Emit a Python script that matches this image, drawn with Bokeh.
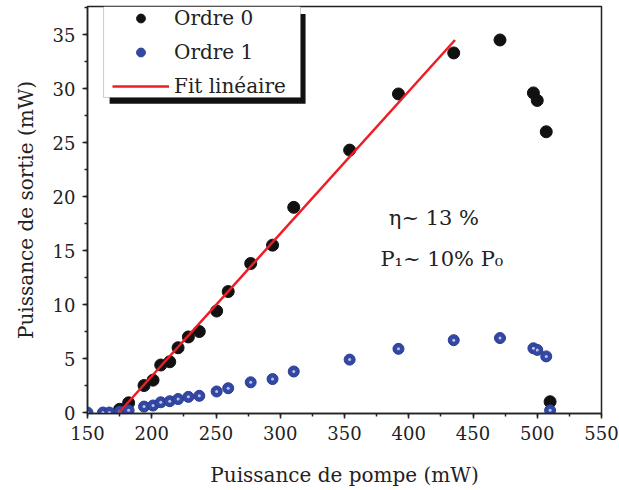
from bokeh.plotting import figure
from bokeh.models import Range1d, SingleIntervalTicker, Legend, LegendItem, Label, BoxAnnotation
from bokeh.embed import file_html
from bokeh.resources import INLINE

# ---- data ----
pump_order0 = [175, 182, 194, 201, 207, 214, 220.5, 228.5, 237, 250.5, 259.5, 277,
               294, 310.5, 354, 392, 435, 471, 497, 500, 507, 510]
power_order0 = [0.3, 0.9, 2.5, 3.0, 4.4, 4.7, 6.0, 7.0, 7.5, 9.4, 11.2, 13.8,
                15.5, 19.0, 24.3, 29.5, 33.3, 34.5, 29.6, 28.9, 26.0, 1.0]
pump_order1 = [150, 162, 167, 175, 182, 194, 201, 207, 214, 220.5, 228.5, 237, 250.5,
               259.5, 277, 294, 310.5, 354, 392, 435, 471, 497, 500, 507, 510]
power_order1 = [0, 0, 0, 0.1, 0.2, 0.55, 0.65, 0.95, 1.05, 1.25, 1.45, 1.55, 1.95,
                2.25, 2.8, 3.1, 3.8, 4.9, 5.9, 6.7, 6.9, 5.95, 5.8, 5.2, 0.2]
fit_pump = [174.5, 436]
fit_power = [0, 34.5]

x_ticks_interval = 50
y_ticks_interval = 5

FONT = "DejaVu Serif"

p = figure(width=619, height=490, output_backend="svg", toolbar_location=None,
           x_range=Range1d(150, 550), y_range=Range1d(-0.09, 37.6),
           min_border_left=87, min_border_right=18, min_border_top=6, min_border_bottom=77)

p.xgrid.visible = False
p.ygrid.visible = False
p.outline_line_color = "#222222"
p.outline_line_width = 1.5
p.background_fill_color = "white"
p.border_fill_color = "white"

p.xaxis.ticker = SingleIntervalTicker(interval=x_ticks_interval, num_minor_ticks=2)
p.yaxis.ticker = SingleIntervalTicker(interval=y_ticks_interval, num_minor_ticks=2)

for ax in (p.xaxis[0], p.yaxis[0]):
    ax.axis_line_color = "#222222"
    ax.axis_line_width = 1.5
    ax.major_tick_line_color = "#222222"
    ax.minor_tick_line_color = "#222222"
    ax.major_tick_line_width = 1.5
    ax.minor_tick_line_width = 1.5
    ax.major_tick_out = 5
    ax.major_tick_in = 0
    ax.minor_tick_out = 3
    ax.minor_tick_in = 0
    ax.major_label_text_font = FONT
    ax.major_label_text_font_size = "18px"
    ax.major_label_text_color = "#222222"
    ax.axis_label_text_font = FONT
    ax.axis_label_text_font_size = "20px"
    ax.axis_label_text_font_style = "normal"
    ax.axis_label_text_color = "#222222"

p.xaxis.axis_label = "Puissance de pompe (mW)"
p.yaxis.axis_label = "Puissance de sortie (mW)"
p.xaxis.major_label_standoff = 7
p.yaxis.major_label_standoff = 7
p.xaxis.axis_label_standoff = 20
p.yaxis.axis_label_standoff = 12

# legend frame with shadow
shadow = BoxAnnotation(left=167.2, right=319.7, top=36.9, bottom=28.6,
                       fill_color="#111111", fill_alpha=1.0, line_color=None)
box = BoxAnnotation(left=162.5, right=315.8, bottom=29.17,
                    fill_color="white", fill_alpha=1.0, line_color="#555555", line_width=1)
p.add_layout(shadow)
p.add_layout(box)

r0 = p.scatter(pump_order0, power_order0, size=12, color="#111111")
r1 = p.scatter(pump_order1, power_order1, size=11, fill_color="#3347a5", line_color="#2a3c90")
p.scatter(pump_order1, power_order1, size=3, fill_color="#b8c4ee", line_color=None)
rf = p.line(fit_pump, fit_power, line_color="#ee1c25", line_width=2.5)

legend = Legend(items=[LegendItem(label="Ordre 0", renderers=[r0]),
                       LegendItem(label="Ordre 1", renderers=[r1]),
                       LegendItem(label="Fit linéaire", renderers=[rf])],
                location=(25, 315), orientation="vertical",
                padding=10, spacing=10, margin=0,
                glyph_width=57, glyph_height=22, label_height=22, label_standoff=5,
                label_text_font=FONT, label_text_font_size="20px", label_text_color="#222222",
                border_line_color=None, background_fill_alpha=0)
p.add_layout(legend)

p.add_layout(Label(x=384.5, y=18.0, text="η~ 13 %", text_font=FONT,
                   text_font_size="21px", text_baseline="middle", text_color="#222222"))
p.add_layout(Label(x=378.0, y=14.2, text="P₁~ 10% P₀", text_font=FONT,
                   text_font_size="21px", text_baseline="middle", text_color="#222222"))

open("out.html", "w").write(file_html(p, INLINE))
